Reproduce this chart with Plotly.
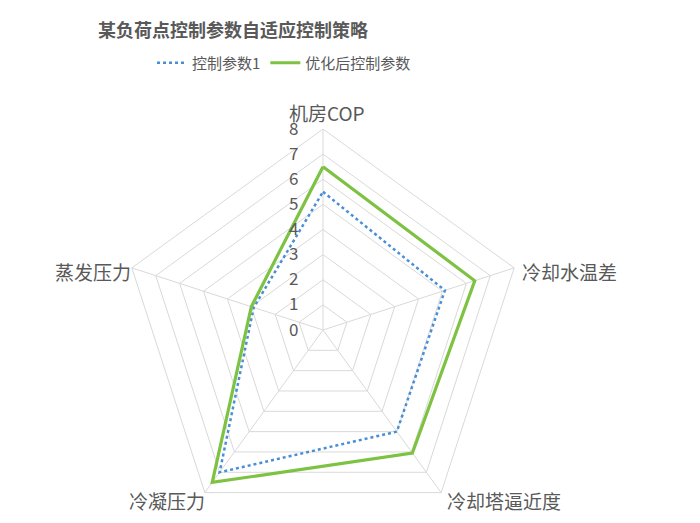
import plotly.graph_objects as go

categories = ['机房COP', '冷却水温差', '冷却塔逼近度', '冷凝压力', '蒸发压力']
params_1 = [5.5, 5.1, 5.0, 7.0, 2.9]
params_opt = [6.5, 6.35, 6.05, 7.5, 3.0]
radial_ticks = [0, 1, 2, 3, 4, 5, 6, 7, 8]

grey = '#595959'
grid = '#D9D9D9'

fig = go.Figure()

# close the polygons by repeating the first point
fig.add_trace(go.Scatterpolar(
    r=params_1 + params_1[:1],
    theta=categories + categories[:1],
    mode='lines',
    name='控制参数1',
    line=dict(color='#4A8FD6', width=2.5, dash='dot'),
))
fig.add_trace(go.Scatterpolar(
    r=params_opt + params_opt[:1],
    theta=categories + categories[:1],
    mode='lines',
    name='优化后控制参数',
    line=dict(color='#7DC242', width=3.2),
))

cx, half_w = 315, 203
top_px = 121

# category labels sit beside the vertices like in Excel, so place them by hand
label_pos = [(319, 104), (561, 263), (496, 492), (159, 492), (85, 263)]
for name, (px, py) in zip(categories, label_pos):
    fig.add_annotation(
        text=name, x=px / 700, y=1 - py / 523,
        xref='paper', yref='paper', xanchor='center', yanchor='middle',
        showarrow=False, font=dict(size=19, color=grey),
    )

fig.update_layout(
    width=700,
    height=523,
    margin=dict(l=0, r=0, t=0, b=0),
    paper_bgcolor='white',
    font=dict(family='Noto Sans CJK SC', color=grey, size=15),
    title=dict(
        text='<b>某负荷点控制参数自适应控制策略</b>',
        x=225 / 700, xanchor='center',
        y=1 - 23 / 523, yanchor='middle',
        font=dict(size=18, color=grey),
    ),
    legend=dict(
        orientation='h',
        x=276 / 700, xanchor='center',
        y=1 - 55 / 523, yanchor='middle',
        font=dict(size=15, color=grey),
        bgcolor='rgba(0,0,0,0)',
    ),
    polar=dict(
        domain=dict(x=[(cx - half_w) / 700, (cx + half_w) / 700],
                    y=[0, 1 - top_px / 523]),
        bgcolor='white',
        gridshape='linear',
        radialaxis=dict(
            range=[0, 8],
            tickvals=radial_ticks,
            angle=90,
            tickangle=90,
            side='counterclockwise',
            showline=False,
            gridcolor=grid,
            ticks='outside',
            ticklen=18,
            tickcolor='rgba(0,0,0,0)',
            tickfont=dict(size=17, color=grey),
        ),
        angularaxis=dict(
            rotation=90,
            direction='clockwise',
            linecolor=grid,
            gridcolor=grid,
            showticklabels=False,
            ticks='',
        ),
    ),
)

fig.write_html('out.html')
